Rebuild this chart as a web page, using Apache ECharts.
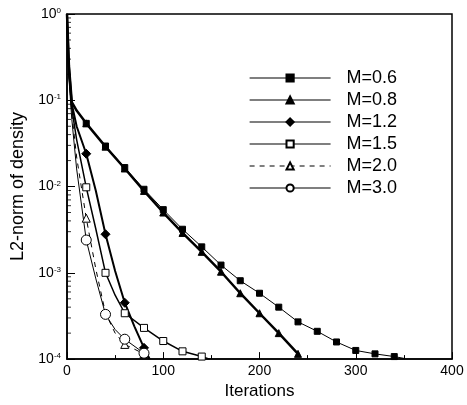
<!DOCTYPE html>
<html><head><meta charset="utf-8">
<script src="https://cdn.jsdelivr.net/npm/echarts@6/dist/echarts.min.js"></script>
<style>html,body{margin:0;padding:0;background:#fff}#c{width:467px;height:405px}</style>
</head><body><div id="c"></div>
<script>
// ---- data ----
const xTicks = [0, 100, 200, 300, 400];
const yTickExps = [0, -1, -2, -3, -4];
const minorTickVals = [2e-4,3e-4,4e-4,5e-4,6e-4,7e-4,8e-4,9e-4,
  2e-3,3e-3,4e-3,5e-3,6e-3,7e-3,8e-3,9e-3,
  2e-2,3e-2,4e-2,5e-2,6e-2,7e-2,8e-2,9e-2,
  0.2,0.3,0.4,0.5,0.6,0.7,0.8,0.9];
const seriesNames = ['M=0.6','M=0.8','M=1.2','M=1.5','M=2.0','M=3.0'];

const it06 = [0,2,5,10,20,40,60,80,100,120,140,160,180,200,220,240,260,280,300,320,340,350];
const v06  = [1,0.25,0.095,0.076,0.054,0.0295,0.0166,0.0093,0.0054,0.0032,0.0020,0.00123,0.00081,0.00058,0.00040,0.00027,0.00021,0.000158,0.000126,0.000115,0.000107,0.000102];

const it08 = [0,2,5,10,20,40,60,80,100,120,140,160,180,200,220,240];
const v08  = [1,0.25,0.095,0.076,0.054,0.029,0.0162,0.0089,0.0050,0.0029,0.00175,0.00103,0.00058,0.00034,0.0002,0.000115];

const it12 = [0,2,5,10,20,30,40,50,60,70,80,86];
const v12  = [1,0.25,0.09,0.05,0.024,0.0089,0.0028,0.00105,0.00045,0.00024,0.000135,0.0001];

const it15 = [0,2,5,10,20,30,40,50,60,80,100,120,140,148];
const v15  = [1,0.2,0.08,0.035,0.0098,0.0032,0.001,0.00055,0.00034,0.00023,0.000162,0.000123,0.000107,0.0001];

const it20 = [0,2,5,10,20,30,40,50,60,80,85];
const v20  = [1,0.2,0.07,0.022,0.0043,0.0011,0.00034,0.0002,0.000148,0.000115,0.0001];

const it30 = [0,2,5,10,20,30,40,50,60,80,85];
const v30  = [1,0.18,0.06,0.016,0.0024,0.00085,0.00033,0.00022,0.00017,0.000117,0.0001];

// ---- build ----
const FONT = 'Liberation Sans';
function build(its, vals) {
  return its.map((x, i) => (x % 20 === 0 && x > 0)
    ? {value: [x, vals[i]]}
    : {value: [x, vals[i]], symbol: 'none'});
}
function mk(name, its, vals, symbol, size, filled, lw, dashed) {
  return {
    name, type: 'line', data: build(its, vals),
    symbol, symbolSize: size, showAllSymbol: true,
    itemStyle: {color: filled ? '#000' : '#fff', borderColor: '#000', borderWidth: 1},
    lineStyle: {color: '#000', width: lw, type: dashed ? [5, 5] : 'solid'},
    emphasis: {disabled: true}, z: 3
  };
}
const sup = {'0': '0', '-1': '-1', '-2': '-2', '-3': '-3', '-4': '-4'};
const chart = echarts.init(document.getElementById('c'), null, {renderer: 'canvas'});
chart.setOption({
  animation: false,
  backgroundColor: '#fff',
  grid: {left: 67, right: 15, top: 14, bottom: 42, show: true, borderColor: '#000', borderWidth: 1.5},
  legend: {
    data: seriesNames, orient: 'vertical', left: 249, top: 69, padding: 0,
    itemWidth: 81, itemHeight: 9, itemGap: 4,
    lineStyle: {width: 1.2},
    textStyle: {fontSize: 18, fontFamily: FONT, color: '#000', lineHeight: 14, padding: [0, 0, 0, 11]}
  },
  xAxis: {
    type: 'value', min: 0, max: 400, interval: 100,
    name: 'Iterations', nameLocation: 'middle', nameGap: 22,
    nameTextStyle: {fontSize: 17, fontFamily: FONT, color: '#000'},
    axisLine: {lineStyle: {color: '#000', width: 1.5}},
    axisTick: {inside: true, length: 7, lineStyle: {color: '#000', width: 1}},
    minorTick: {show: true, splitNumber: 2, length: 4, lineStyle: {color: '#000'}},
    splitLine: {show: false},
    axisLabel: {fontSize: 14, fontFamily: FONT, color: '#000', margin: 5,
      formatter: v => xTicks.includes(v) ? String(v) : ''}
  },
  yAxis: {
    type: 'log', min: 1e-4, max: 1, logBase: 10,
    name: 'L2-norm of density', nameLocation: 'middle', nameGap: 37,
    nameTextStyle: {fontSize: 18, fontFamily: FONT, color: '#000'},
    axisLine: {lineStyle: {color: '#000', width: 1.5}},
    axisTick: {inside: true, length: 8, lineStyle: {color: '#000', width: 1}},
    splitLine: {show: false},
    axisLabel: {
      margin: 6,
      formatter: v => {
        const e = Math.round(Math.log10(v));
        return yTickExps.includes(e) ? '{b|10}{s|' + sup[String(e)] + '}' : '';
      },
      rich: {
        b: {fontSize: 14, fontFamily: FONT, color: '#000'},
        s: {fontSize: 8, fontFamily: FONT, color: '#000', verticalAlign: 'top'}
      }
    }
  },
  series: [
    mk('M=0.6', it06, v06, 'rect', 6, true, 1, false),
    mk('M=0.8', it08, v08, 'triangle', 7, true, 2.5, false),
    mk('M=1.2', it12, v12, 'diamond', 9, true, 2, false),
    mk('M=1.5', it15, v15, 'rect', 7, false, 1.5, false),
    mk('M=2.0', it20, v20, 'triangle', 8, false, 1, true),
    mk('M=3.0', it30, v30, 'circle', 10, false, 1, false),
    {
      type: 'scatter', data: minorTickVals.map(v => [0, v]),
      symbol: 'rect', symbolSize: [4, 1], symbolOffset: [2, 0],
      itemStyle: {color: '#000'}, clip: false, silent: true, z: 4
    }
  ]
});
</script></body></html>
